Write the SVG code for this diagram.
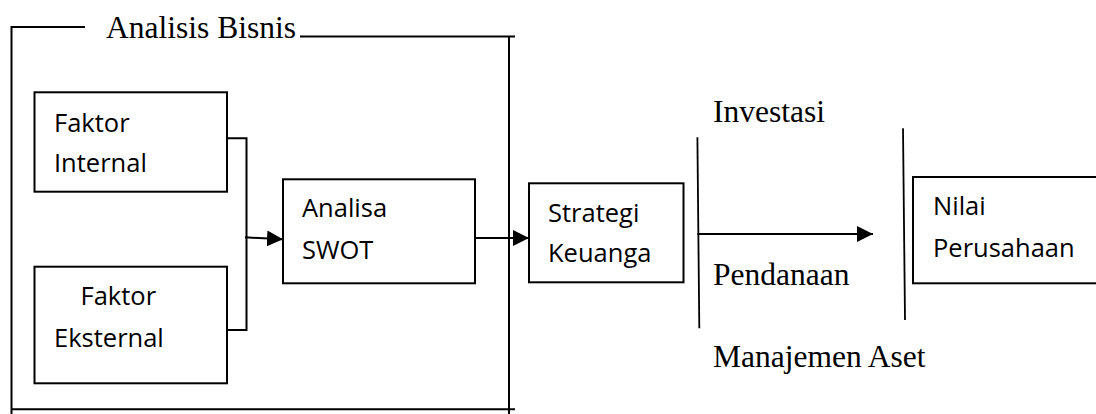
<svg xmlns="http://www.w3.org/2000/svg" width="1096" height="414" viewBox="0 0 1096 414">
<style>
.box{fill:#fff;stroke:#000;stroke-width:2}
.ln{fill:none;stroke:#000;stroke-width:2}
.vl{fill:none;stroke:#000;stroke-width:1.8}
.cal{font-family:"Open Sans","Noto Sans",sans-serif;font-size:25.5px;fill:#000}
.tnr{font-family:"Liberation Serif","Times New Roman",serif;font-size:31.5px;fill:#000}
</style>
<defs>
<marker id="ah" markerUnits="userSpaceOnUse" markerWidth="17" markerHeight="16" refX="16" refY="8" orient="auto">
<path d="M0,0 L16,8 L0,16 Z" fill="#000"/>
</marker>
</defs>
<rect width="1096" height="414" fill="#fff"/>
<g id="analisis-bisnis">
<path class="ln" d="M85,27 H11.5 V414"/>
<path class="ln" d="M300,36.5 H515 M509,36.5 V414 M11,409.3 H515"/>
<text class="tnr" x="106" y="37.7">Analisis Bisnis</text>
</g>
<g id="faktor-internal">
<rect class="box" x="34.5" y="92.3" width="192.5" height="99.4"/>
<text class="cal" x="54" y="131.7">Faktor</text>
<text class="cal" x="54" y="171.7">Internal</text>
</g>
<g id="faktor-eksternal">
<rect class="box" x="34.5" y="266.7" width="192.5" height="116.6"/>
<text class="cal" x="80.5" y="305">Faktor</text>
<text class="cal" x="54" y="346.7">Eksternal</text>
</g>
<g id="analisa-swot">
<rect class="box" x="283" y="179.3" width="192" height="104"/>
<text class="cal" x="302" y="216.7">Analisa</text>
<text class="cal" x="302" y="259.3">SWOT</text>
</g>
<g id="strategi-keuangan">
<rect class="box" x="529" y="183.3" width="154.5" height="99"/>
<text class="cal" x="548" y="221.7">Strategi</text>
<text class="cal" x="548" y="261.7">Keuanga</text>
</g>
<g id="nilai-perusahaan">
<rect class="box" x="913" y="177" width="190" height="106.3"/>
<text class="cal" x="933" y="215">Nilai</text>
<text class="cal" x="933" y="256.7">Perusahaan</text>
</g>
<g id="labels">
<text class="tnr" x="713" y="121.7">Investasi</text>
<text class="tnr" x="713" y="285">Pendanaan</text>
<text class="tnr" x="713" y="366.7">Manajemen Aset</text>
</g>
<g id="connectors">
<path class="ln" d="M227,138.3 H246.5 V330 H227"/>
<path class="ln" d="M245,237.3 L283,239.3" marker-end="url(#ah)"/>
<path class="ln" d="M475,238 H529" marker-end="url(#ah)"/>
<path class="vl" d="M697.4,137.3 L699.3,328.3"/>
<path class="ln" d="M697.4,234 H873" marker-end="url(#ah)"/>
<path class="vl" d="M903,128.3 L905,320"/>
</g>
</svg>
